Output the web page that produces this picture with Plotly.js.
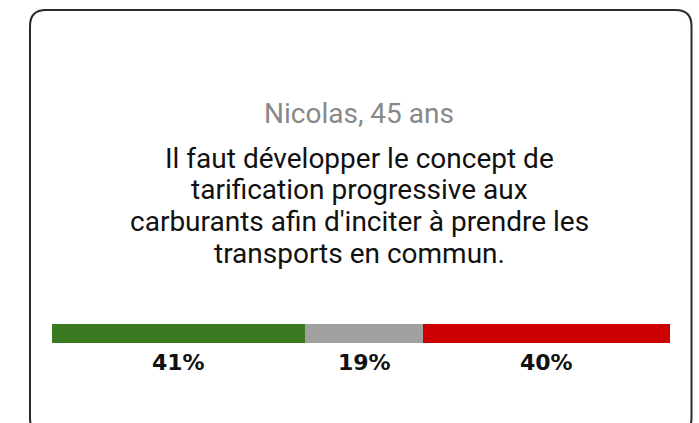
<!DOCTYPE html>
<html>
<head>
<meta charset="utf-8">
<script src="https://cdn.plot.ly/plotly-3.0.1.min.js"></script>
<style>
html,body{margin:0;padding:0;background:#fff;}
#chart{width:699px;height:423px;}
</style>
</head>
<body>
<div id="chart"></div>
<script>
// ---- data ----
const respondent = "Nicolas, 45 ans";
const quoteLines = [
  "Il faut développer le concept de",
  "tarification progressive aux",
  "carburants afin d'inciter à prendre les",
  "transports en commun."
];
const categories = ["Pour", "Neutre", "Contre"];
const shares = [41, 19, 40];
const colors = ["#3b7a21", "#a0a0a0", "#cc0000"];

// ---- layout helpers (pixel -> paper) ----
const W = 699, H = 423;
const px = v => v / W;
const py = v => 1 - v / H;

function roundedRectPath(x0, y0, x1, y1, r) {
  const P = (x, y) => px(x) + "," + py(y);
  return "M" + P(x0 + r, y0) +
    " L" + P(x1 - r, y0) +
    " Q" + P(x1, y0) + " " + P(x1, y0 + r) +
    " L" + P(x1, y1 - r) +
    " Q" + P(x1, y1) + " " + P(x1 - r, y1) +
    " L" + P(x0 + r, y1) +
    " Q" + P(x0, y1) + " " + P(x0, y1 - r) +
    " L" + P(x0, y0 + r) +
    " Q" + P(x0, y0) + " " + P(x0 + r, y0) + " Z";
}

const traces = categories.map((c, i) => ({
  type: "bar",
  orientation: "h",
  name: c,
  y: [0],
  x: [shares[i]],
  width: 1,
  marker: { color: colors[i], line: { width: 0 } },
  hoverinfo: "none"
}));

let cum = 0;
const pctAnnotations = shares.map(v => {
  const center = cum + v / 2;
  cum += v;
  return {
    x: center, xref: "x",
    y: py(362), yref: "paper",
    xanchor: "center", yanchor: "middle",
    text: v + "%",
    showarrow: false,
    font: { family: "DejaVu Sans", size: 22, color: "#111", weight: "bold" }
  };
});

const lineTop = 158, lineStep = 31.7;
const quoteAnnotations = quoteLines.map((t, i) => ({
  x: px(359), xref: "paper", y: py(lineTop + i * lineStep), yref: "paper",
  xanchor: "center", yanchor: "middle",
  text: t, showarrow: false,
  font: { family: "Roboto", size: 28, color: "#111111" }
}));

const layout = {
  width: W, height: H,
  margin: { l: 0, r: 0, t: 0, b: 0 },
  paper_bgcolor: "#ffffff",
  plot_bgcolor: "rgba(0,0,0,0)",
  showlegend: false,
  barmode: "stack",
  bargap: 0,
  xaxis: { domain: [px(52), px(670)], range: [0, 100], visible: false, fixedrange: true },
  yaxis: { domain: [py(343), py(324)], range: [-0.5, 0.5], visible: false, fixedrange: true },
  shapes: [{
    type: "path", xref: "paper", yref: "paper",
    path: roundedRectPath(30, 10, 691.5, 434, 16),
    line: { color: "#2a2a2a", width: 2 },
    fillcolor: "rgba(0,0,0,0)",
    layer: "below"
  }],
  annotations: [
    {
      x: px(359), xref: "paper", y: py(113), yref: "paper",
      xanchor: "center", yanchor: "middle",
      text: respondent, showarrow: false,
      font: { family: "Roboto", size: 28, color: "#888888" }
    }
  ].concat(quoteAnnotations, pctAnnotations)
};

Plotly.newPlot("chart", traces, layout, { staticPlot: true, displayModeBar: false });
</script>
</body>
</html>
